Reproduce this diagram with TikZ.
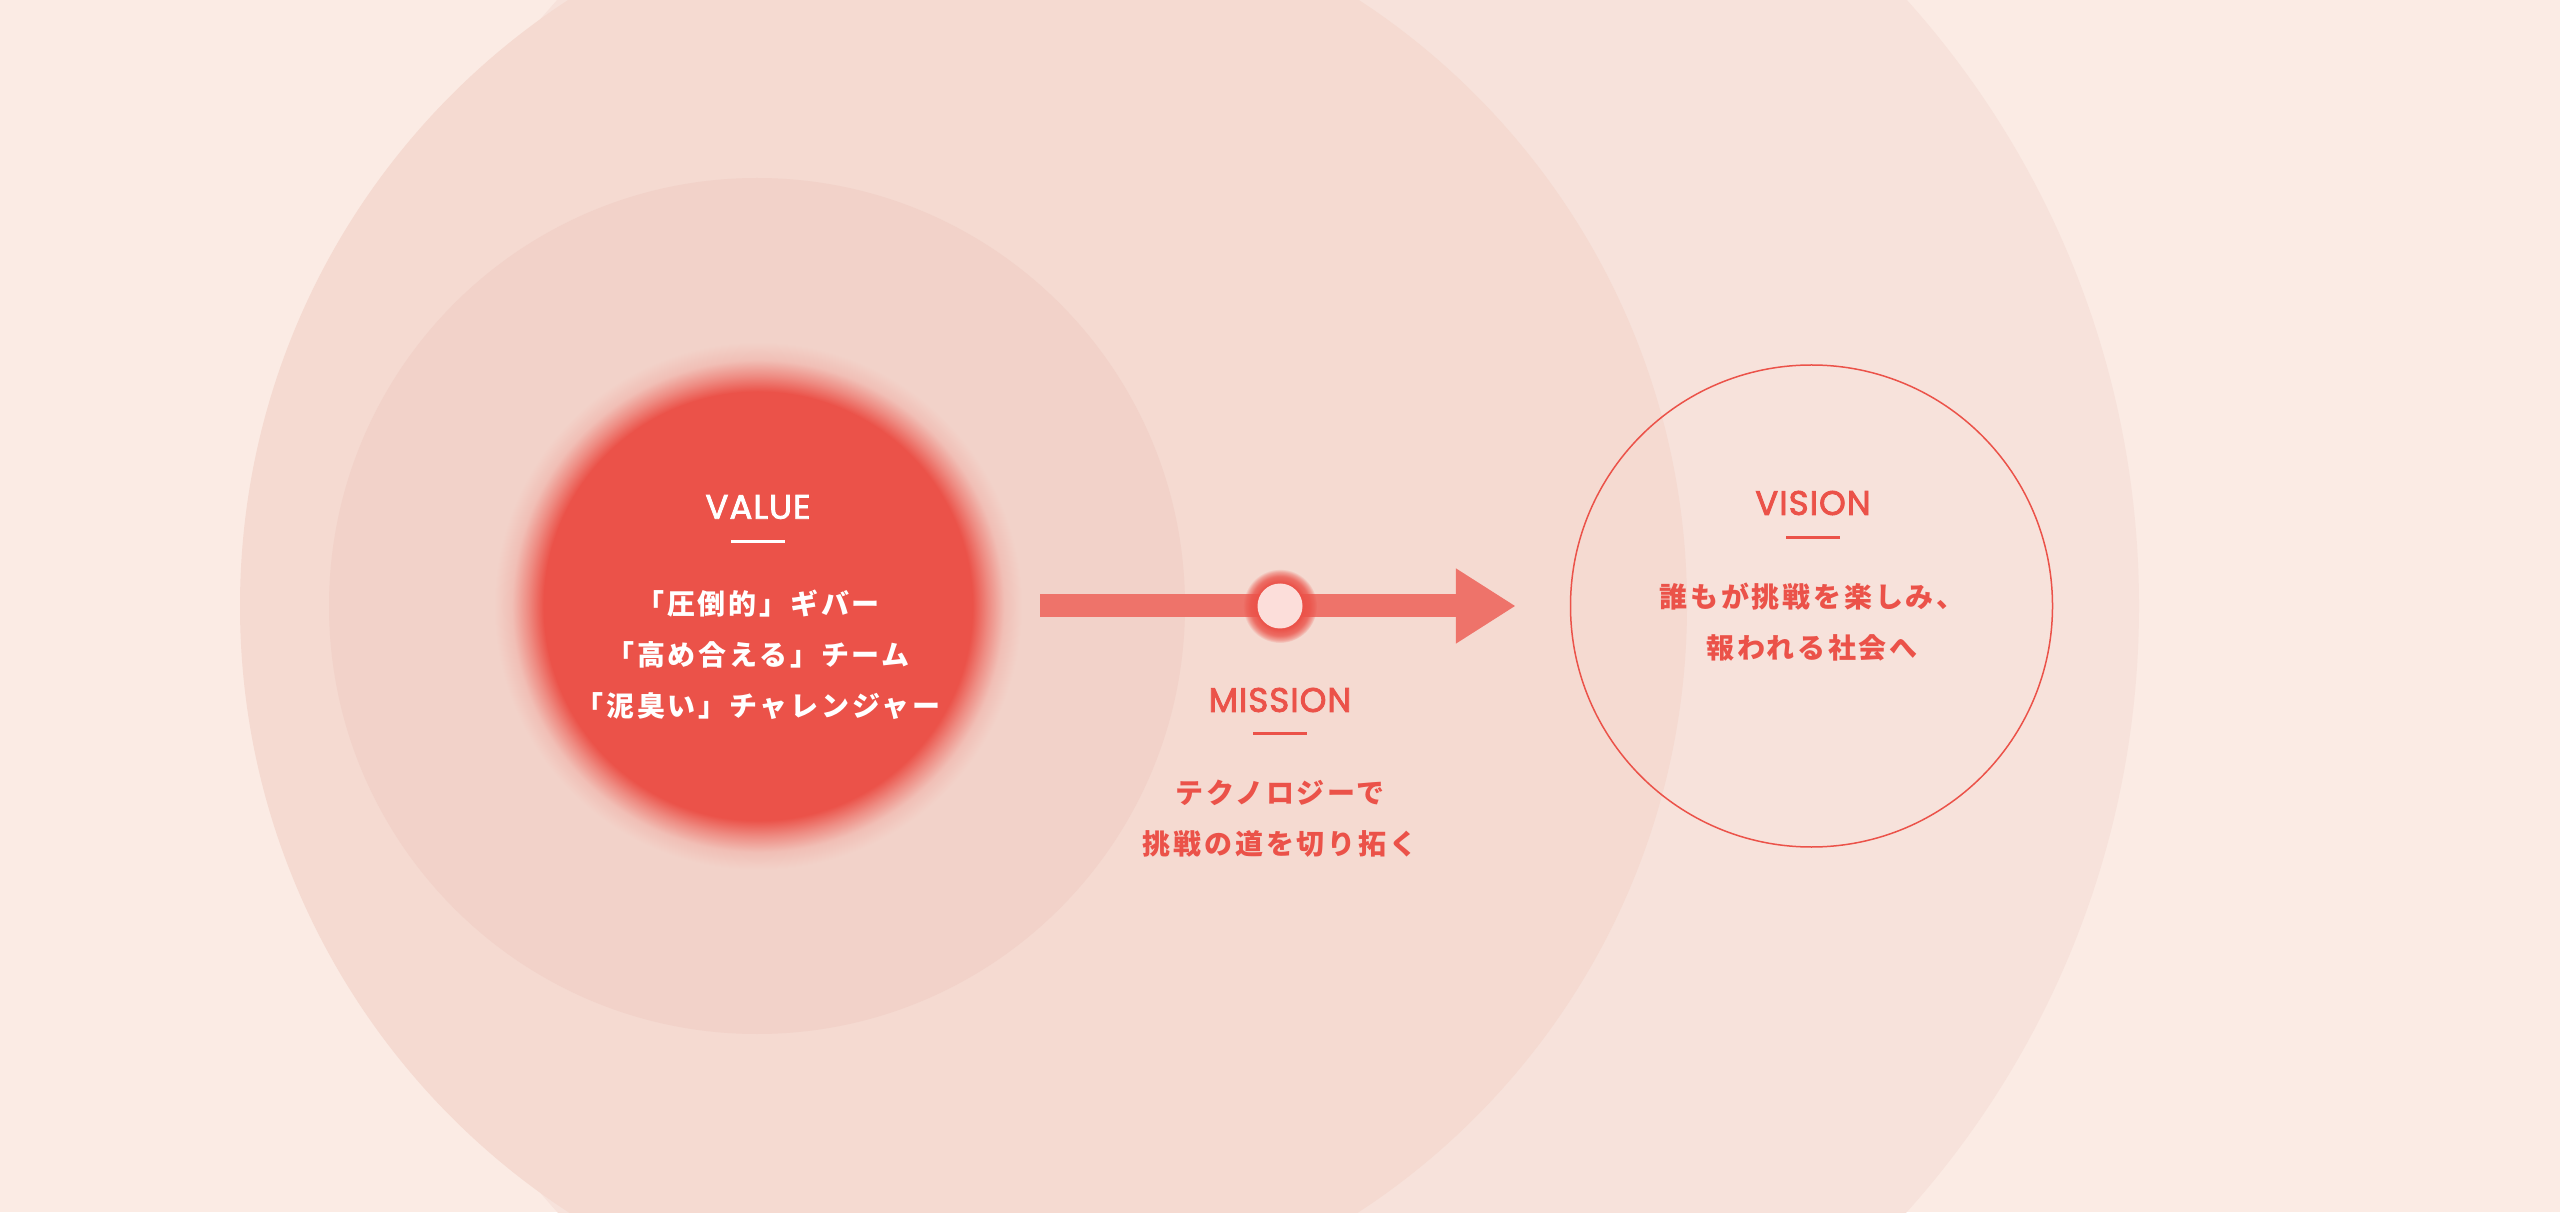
\documentclass[tikz,border=0pt]{standalone}
\usepackage{fontspec}
\usepackage{tikz}
\usetikzlibrary{arrows.meta,fadings}

\setmainfont{Poppins}[FakeBold=2.5,LetterSpace=3]
\newfontfamily\jpfont{Noto Sans CJK JP}[LetterSpace=10]

\definecolor{pagebg}{HTML}{FBEBE4}
\definecolor{outerring}{HTML}{F7E2DB}
\definecolor{midring}{HTML}{F5DAD1}
\definecolor{valuebg}{HTML}{F2D2C9}
\definecolor{valuered}{HTML}{EB5249}
\definecolor{arrowred}{HTML}{EE736A}
\definecolor{dotpink}{HTML}{FCDEDA}
\colorlet{glowmid}{valuered!55!valuebg}
\colorlet{glowfar}{valuered!15!valuebg}

\pgfdeclareradialshading{valueglow}{\pgfpointorigin}{%
  color(0bp)=(valuered); color(20.3bp)=(valuered);
  color(21.8bp)=(glowmid); color(23.3bp)=(glowfar);
  color(25bp)=(valuebg); color(50bp)=(valuebg)}
\pgfdeclareradialshading{dotglowmask}{\pgfpointorigin}{%
  color(0bp)=(pgftransparent!0); color(15.5bp)=(pgftransparent!0);
  color(20bp)=(pgftransparent!20); color(23bp)=(pgftransparent!60);
  color(25bp)=(pgftransparent!100); color(50bp)=(pgftransparent!100)}
\pgfdeclarefading{dotglow}{\pgfuseshading{dotglowmask}}

\begin{document}
\begin{tikzpicture}[x=0.5pt,y=0.5pt,
    title/.style={inner sep=0pt,font=\fontsize{17pt}{19pt}\selectfont},
    jptext/.style={inner sep=0pt,align=center,
      font=\jpfont\bfseries\fontsize{14pt}{25.5pt}\selectfont},
    rule/.style={line width=1.25pt}]
  \useasboundingbox (0,0) rectangle (2560,1212);
  \fill[pagebg] (0,0) rectangle (2560,1212);
  \clip (0,0) rectangle (2560,1212);

  % rings
  \fill[outerring] (1232,606)  circle (907);
  \fill[midring]   (963.5,606) circle (723.5);
  \fill[valuebg]   (757,606)   circle (428);
  \shade[shading=valueglow] (758,606) circle (264);

  \node (valuecore)   at (758,606)  [circle,fill=valuered,inner sep=0pt,minimum size=214pt] {};
  \node (vision)      at (1811.5,606) [circle,draw=valuered,line width=0.75pt,inner sep=0pt,minimum size=241pt] {};

  \node (valuetitle)  at (758,705)  [title,text=white] {VALUE};
  \node (valuetext)   at (758,557)  [jptext,text=white]
    {「圧倒的」ギバー\\「高め合える」チーム\\「泥臭い」チャレンジャー};
  \node (missiontitle) at (1280,512) [title,text=valuered] {MISSION};
  \node (missiontext)  at (1280,393) [jptext,text=valuered]
    {テクノロジーで\\挑戦の道を切り拓く};
  \node (visiontitle) at (1813,709) [title,text=valuered] {VISION};
  \node (visiontext)  at (1812,590) [jptext,text=valuered]
    {誰もが挑戦を楽しみ、\\報われる社会へ};

  \draw[rule,white]    ([xshift=-13.5pt,yshift=-11pt]valuetitle.south)   -- ++(54,0);
  \draw[rule,valuered] ([xshift=-13.5pt,yshift=-10.5pt]missiontitle.south) -- ++(54,0);
  \draw[rule,valuered] ([xshift=-13.5pt,yshift=-11pt]visiontitle.south)  -- ++(54,0);

  \draw[arrowred,line width=11.5pt,shorten <=34pt,shorten >=27pt,
        -{Triangle[length=30pt,width=35.5pt]}] (valuecore) -- (vision);

  \fill[valuered,path fading=dotglow] (1280,606) circle (37);
  \node (missiondot)  at (1280,606) [circle,fill=dotpink,inner sep=0pt,minimum size=22.5pt] {};
\end{tikzpicture}
\end{document}
